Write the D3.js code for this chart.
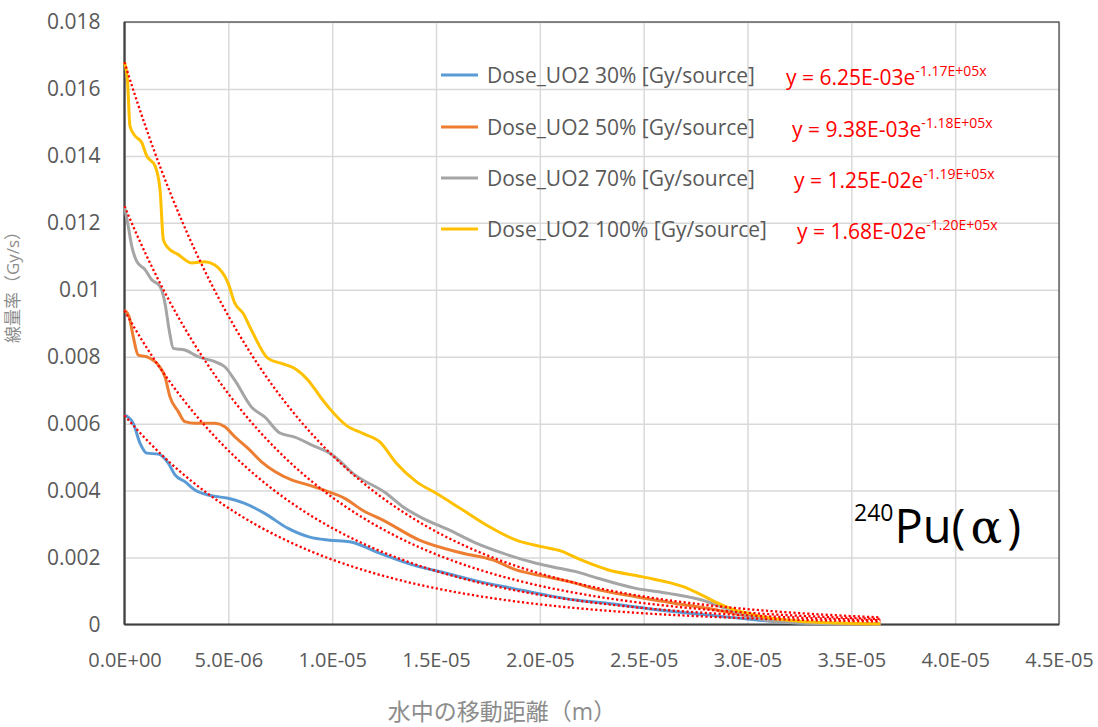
<!DOCTYPE html>
<html>
<head>
<meta charset="utf-8">
<script src="https://d3js.org/d3.v7.min.js"></script>
<style>
    body { margin: 0; background: white; }
    svg text { font-family: "Open Sans", "Noto Sans CJK JP", sans-serif; }
</style>
</head>
<body>
<div id="chart"></div>
<script>
    // distances are in micrometres (converted to metres when plotted), dose rate in Gy/s
    const UM = 1e-6;

    const seriesNames = ["Dose_UO2 30% [Gy/source]", "Dose_UO2 50% [Gy/source]",
        "Dose_UO2 70% [Gy/source]", "Dose_UO2 100% [Gy/source]"];
    const seriesColors = ["#5b9bd5", "#ed7d31", "#a5a5a5", "#ffc000"];

    const x30 = [0, 0.42, 0.75, 1.07, 1.63, 2.11, 2.43, 2.91, 3.39, 4.03, 4.99, 5.79, 6.75, 7.88, 8.92, 9.88,
        10.84, 12.28, 13.88, 15.49, 17.09, 18.69, 20.3, 21.74, 23.3, 25.75, 28.15, 30.55, 32.95, 36.4];
    const y30 = [0.00626, 0.00601, 0.00541, 0.00512, 0.00509, 0.00482, 0.00447, 0.00427, 0.00402, 0.00387,
        0.00377, 0.00362, 0.00332, 0.00287, 0.00261, 0.00252, 0.00247, 0.00213, 0.00178, 0.00153, 0.00128,
        0.00108, 0.00088, 0.00073, 0.00063, 0.00043, 0.00028, 0.00013, 0.00004, 0.00001];

    const x50 = [0, 0.22, 0.42, 0.66, 1.07, 1.63, 1.95, 2.19, 2.59, 2.91, 3.39, 4.35, 4.83, 5.31, 5.95, 6.6,
        7.24, 8.04, 8.84, 9.8, 10.6, 11.5, 12.44, 14.2, 16.29, 17.73, 18.86, 20.3, 21.74, 22.54, 24.62,
        26.55, 28.15, 29.75, 31.36, 33.4, 36.4];
    const y50 = [0.0094, 0.0092, 0.0086, 0.00805, 0.0080, 0.00775, 0.0074, 0.0068, 0.00636, 0.00606, 0.00601,
        0.00601, 0.00591, 0.00561, 0.00526, 0.00486, 0.00457, 0.00432, 0.00417, 0.00397, 0.00377, 0.0034,
        0.00312, 0.00252, 0.00213, 0.00193, 0.00163, 0.00143, 0.00123, 0.00108, 0.00083, 0.00063, 0.00048,
        0.00028, 0.00013, 0.00004, 0.00001];

    const x70 = [0, 0.18, 0.35, 0.59, 0.99, 1.31, 1.71, 1.95, 2.15, 2.35, 2.91, 3.55, 4.35, 4.83, 5.31, 6.11,
        6.75, 7.48, 8.2, 9.16, 9.8, 10.6, 10.84, 12.6, 13.4, 14.37, 15.65, 16.93, 18.21, 19.82, 20.94, 21.74,
        22.54, 24.62, 26.2, 27.8, 28.95, 29.9, 31.4, 34.4, 36.4];
    const y70 = [0.0125, 0.0119, 0.0113, 0.01085, 0.0106, 0.0103, 0.0101, 0.0096, 0.0088, 0.00825, 0.0082,
        0.0080, 0.00785, 0.0077, 0.0073, 0.0065, 0.0062, 0.00572, 0.0056, 0.00532, 0.00515, 0.00475, 0.0046,
        0.00392, 0.00352, 0.00317, 0.00282, 0.00243, 0.00213, 0.00183, 0.00168, 0.00158, 0.00143, 0.00108,
        0.00093, 0.00073, 0.00048, 0.00028, 0.00008, 0.00002, 0.00001];

    const x100 = [0, 0.15, 0.26, 0.5, 0.83, 1.07, 1.47, 1.71, 1.87, 2.1, 2.59, 3.23, 3.87, 4.35, 4.99, 5.31,
        5.71, 6.11, 6.91, 7.56, 8.2, 8.84, 9.48, 9.88, 10.68, 11.5, 12.28, 13.09, 14.05, 15.01, 16.29, 17.57,
        18.86, 20.13, 21.0, 21.9, 23.3, 24.9, 26.9, 27.8, 28.6, 29.4, 30.07, 31.0, 32.5, 34.0, 36.4];
    const y100 = [0.0168, 0.0162, 0.0149, 0.0146, 0.0144, 0.0140, 0.0137, 0.0130, 0.0115, 0.01125, 0.01105,
        0.0108, 0.01084, 0.01074, 0.0102, 0.0096, 0.0093, 0.0088, 0.00795, 0.0078, 0.00765, 0.0073, 0.00676,
        0.00645, 0.00595, 0.0057, 0.00546, 0.00482, 0.00427, 0.00392, 0.00342, 0.00292, 0.00252, 0.00232,
        0.0022, 0.00195, 0.00163, 0.00143, 0.00113, 0.00088, 0.00063, 0.00043, 0.00033, 0.0002, 0.0001,
        0.00005, 0.00002];

    // exponential trendlines y = a * exp(b x), as printed on the chart
    const trendA = [6.25e-03, 9.38e-03, 1.25e-02, 1.68e-02];
    const trendB = [-1.17e+05, -1.18e+05, -1.19e+05, -1.20e+05];
    const trendLabels = ["y = 6.25E-03e", "y = 9.38E-03e", "y = 1.25E-02e", "y = 1.68E-02e"];
    const trendExps = ["-1.17E+05x", "-1.18E+05x", "-1.19E+05x", "-1.20E+05x"];
    const trendEnd = 36.4;

    const xTicks = [0, 5e-6, 1e-5, 1.5e-5, 2e-5, 2.5e-5, 3e-5, 3.5e-5, 4e-5, 4.5e-5];
    const yTicks = [0, 0.002, 0.004, 0.006, 0.008, 0.01, 0.012, 0.014, 0.016, 0.018];

    const xs = [x30, x50, x70, x100];
    const ys = [y30, y50, y70, y100];

    const W = 1098, H = 727;
    const pLeft = 124.5, pRight = 1059, pTop = 22, pBottom = 624.5;

    const svg = d3.select("#chart").append("svg")
        .attr("width", W).attr("height", H);

    const x = d3.scaleLinear().domain([0, 4.5e-5]).range([pLeft, pRight]);
    const y = d3.scaleLinear().domain([0, 0.018]).range([pBottom, pTop]);

    function sci(v) {
        if (v === 0) return "0.0E+00";
        let e = Math.floor(Math.log10(v) + 1e-9);
        let m = v / Math.pow(10, e);
        return m.toFixed(1) + "E" + (e < 0 ? "-" : "+") + String(Math.abs(e)).padStart(2, "0");
    }

    // gridlines
    svg.append("g")
        .attr("transform", "translate(0," + pBottom + ")")
        .call(d3.axisBottom(x).tickValues(xTicks).tickSize(-(pBottom - pTop)).tickFormat(""))
        .call(g => g.select(".domain").remove())
        .call(g => g.selectAll("line").attr("stroke", "#d9d9d9").attr("stroke-width", 1.5));
    svg.append("g")
        .attr("transform", "translate(" + pLeft + ",0)")
        .call(d3.axisLeft(y).tickValues(yTicks).tickSize(-(pRight - pLeft)).tickFormat(""))
        .call(g => g.select(".domain").remove())
        .call(g => g.selectAll("line").attr("stroke", "#d9d9d9").attr("stroke-width", 1.5));

    // tick labels
    svg.append("g")
        .attr("transform", "translate(0," + pBottom + ")")
        .call(d3.axisBottom(x).tickValues(xTicks).tickSize(0).tickPadding(28).tickFormat(sci))
        .call(g => g.select(".domain").remove())
        .call(g => g.selectAll("text").attr("fill", "#595959").attr("font-size", 20)
            .attr("font-family", "Open Sans"));
    svg.append("g")
        .attr("transform", "translate(" + pLeft + ",0)")
        .call(d3.axisLeft(y).tickValues(yTicks).tickSize(0).tickPadding(24).tickFormat(d3.format("~g")))
        .call(g => g.select(".domain").remove())
        .call(g => g.selectAll("text").attr("fill", "#595959").attr("font-size", 21)
            .attr("font-family", "Open Sans"));

    // frame and axes
    svg.append("rect")
        .attr("x", pLeft).attr("y", pTop).attr("width", pRight - pLeft).attr("height", pBottom - pTop)
        .attr("fill", "none").attr("stroke", "#404040").attr("stroke-width", 1.2);
    svg.append("line").attr("x1", pLeft).attr("x2", pLeft).attr("y1", pTop).attr("y2", pBottom)
        .attr("stroke", "#404040").attr("stroke-width", 2.2);
    svg.append("line").attr("x1", pLeft).attr("x2", pRight).attr("y1", pBottom).attr("y2", pBottom)
        .attr("stroke", "#404040").attr("stroke-width", 2.2);

    // data lines
    const line = d3.line().x(d => x(d[0] * UM)).y(d => y(d[1])).curve(d3.curveMonotoneX);
    xs.forEach((xa, i) => {
        svg.append("path")
            .datum(xa.map((v, j) => [v, ys[i][j]]))
            .attr("d", line)
            .attr("fill", "none")
            .attr("stroke", seriesColors[i])
            .attr("stroke-width", 3)
            .attr("stroke-linejoin", "round");
    });

    // trendlines
    trendA.forEach((a, i) => {
        const pts = d3.range(0, trendEnd + 0.01, 0.2).map(u => [u, a * Math.exp(trendB[i] * u * UM)]);
        svg.append("path")
            .datum(pts)
            .attr("d", d3.line().x(d => x(d[0] * UM)).y(d => y(d[1])))
            .attr("fill", "none")
            .attr("stroke", "#ff0000")
            .attr("stroke-width", 2.3)
            .attr("stroke-dasharray", "2.2,2.4");
    });

    // legend
    const legY = [75, 127, 178, 229];
    const eqX = [786, 792, 794, 797];
    seriesNames.forEach((name, i) => {
        svg.append("line")
            .attr("x1", 441).attr("x2", 478).attr("y1", legY[i]).attr("y2", legY[i])
            .attr("stroke", seriesColors[i]).attr("stroke-width", 3);
        svg.append("text")
            .attr("x", 487).attr("y", legY[i] + 7.5)
            .attr("font-size", 21).attr("fill", "#595959")
            .text(name);
        const t = svg.append("text")
            .attr("x", eqX[i]).attr("y", legY[i] + 10)
            .attr("font-size", 21).attr("fill", "#ff0000");
        t.append("tspan").text(trendLabels[i]);
        t.append("tspan").attr("dy", -9).attr("font-size", 14).text(trendExps[i]);
    });

    // nuclide label
    const lab = svg.append("text").attr("x", 854).attr("y", 543).attr("fill", "#000");
    lab.append("tspan").attr("font-size", 23).attr("dy", -22).text("240");
    lab.append("tspan").attr("font-size", 47).attr("dy", 22).attr("dx", 1).text("Pu(");
    lab.append("tspan").attr("font-size", 47).attr("font-family", "DejaVu Serif")
        .attr("dx", 5).text("α");
    lab.append("tspan").attr("font-size", 47).attr("dx", 5).text(")");

    // axis titles
    svg.append("text")
        .attr("transform", "translate(19,283) rotate(-90)")
        .attr("text-anchor", "middle")
        .attr("font-size", 17).attr("fill", "#8c8c8c")
        .text("線量率（Gy/s）");
    svg.append("text")
        .attr("x", 502).attr("y", 720)
        .attr("text-anchor", "middle")
        .attr("font-size", 23).attr("fill", "#8c8c8c")
        .text("水中の移動距離（m）");
</script>
</body>
</html>
